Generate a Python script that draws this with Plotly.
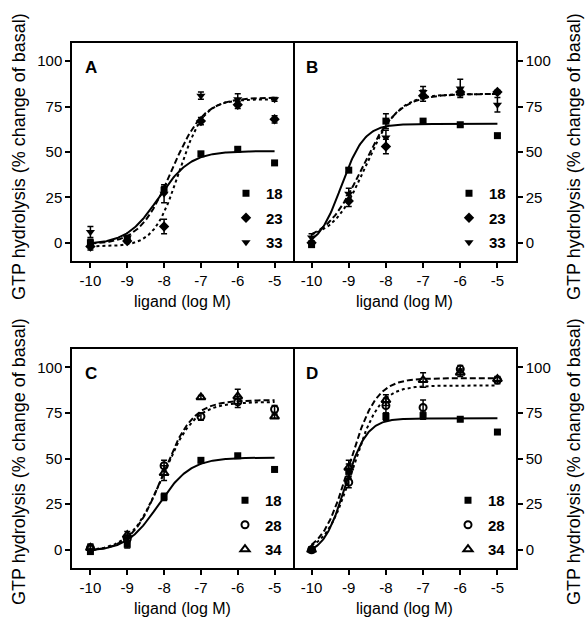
import numpy as np
import plotly.graph_objects as go

# ---------------- data ----------------
log_conc = [-10, -9, -8, -7, -6, -5]
x_tick_vals = [-10, -9, -8, -7, -6, -5]
x_tick_text = ["-10", "-9", "-8", "-7", "-6", "-5"]
y_tick_vals = [0, 25, 50, 75, 100]
y_tick_text = ["0", "25", "50", "75", "100"]

panel_labels = ["A", "B", "C", "D"]

# Panel A
A_18 = [0, 2, 29, 49, 51.5, 44]
A_18_err = [2, 1, 2, 1, 1, 0]
A_23 = [-2, 1, 9, 67, 76, 68]
A_23_err = [2, 1, 4, 2, 2, 2]
A_33 = [6, 3, 27, 81, 79, 79]
A_33_err = [3, 1, 5, 2, 3, 1]

# Panel B
B_18 = [-1, 40, 67, 67, 65, 59]
B_18_err = [1, 1, 4, 1, 1, 1]
B_23 = [0, 23, 53, 81, 83, 83]
B_23_err = [1, 3, 4, 3, 2, 1]
B_33 = [3, 27, 58, 83, 85, 76]
B_33_err = [2, 3, 4, 3, 5, 4]

# Panel C
C_18 = [-1, 3, 29, 49, 51.5, 44]
C_18_err = [1, 2, 2, 1, 1, 0]
C_28 = [1, 6, 46, 73, 81, 77]
C_28_err = [2, 2, 3, 2, 3, 2]
C_34 = [1, 8, 42, 83.5, 84, 73]
C_34_err = [2, 2, 4, 1, 4, 1]

# Panel D
D_18 = [0, 43, 73, 73.5, 71.5, 64.5]
D_18_err = [1, 4, 2, 2, 1, 1]
D_28 = [0, 37, 79, 78, 99, 93]
D_28_err = [1, 3, 4, 4, 2, 2]
D_34 = [0, 45, 82, 93, 97, 93.5]
D_34_err = [1, 4, 3, 4, 2, 1]

# sigmoidal fit parameters: bottom, top, logEC50, hill
A_fits = {"18": (-1, 50.5, -8.15, 1.0), "23": (-2, 79, -7.6, 1.3), "33": (-1, 80, -7.8, 1.0)}
B_fits = {"18": (-3, 65.5, -9.2, 1.4), "23": (2, 82, -8.55, 1.0), "33": (0, 82, -8.65, 0.9)}
C_fits = {"18": (-1, 50.5, -8.15, 1.0), "28": (-1, 81, -8.05, 1.0), "34": (-1, 82, -8.05, 1.05)}
D_fits = {"18": (-3, 72, -9.1, 1.5), "28": (-2, 90, -8.9, 1.2), "34": (-3, 94, -9.0, 1.2)}

# ---------------- figure ----------------
W, H = 587, 619
FONT = "Liberation Sans, Arial, sans-serif"

def px_x(p):
    return p / W

def px_y(p):
    return 1 - p / H

domains = {
    "A": ([px_x(72), px_x(293)], [px_y(261), px_y(43)]),
    "B": ([px_x(293), px_x(516)], [px_y(261), px_y(43)]),
    "C": ([px_x(72), px_x(293)], [px_y(568), px_y(349)]),
    "D": ([px_x(293), px_x(516)], [px_y(568), px_y(349)]),
}

styles = {
    "18": dict(symbol="square", size=7, dash="solid"),
    "23": dict(symbol="diamond", size=8, dash="3px,3px"),
    "33": dict(symbol="triangle-down", size=8, dash="6px,3px"),
    "28": dict(symbol="circle-open", size=7, dash="3px,3px"),
    "34": dict(symbol="triangle-up-open", size=8, dash="6px,3px"),
}

panels = [
    ("A", [("18", A_18, A_18_err), ("23", A_23, A_23_err), ("33", A_33, A_33_err)], A_fits),
    ("B", [("18", B_18, B_18_err), ("23", B_23, B_23_err), ("33", B_33, B_33_err)], B_fits),
    ("C", [("18", C_18, C_18_err), ("28", C_28, C_28_err), ("34", C_34, C_34_err)], C_fits),
    ("D", [("18", D_18, D_18_err), ("28", D_28, D_28_err), ("34", D_34, D_34_err)], D_fits),
]

fig = go.Figure()
xcurve = np.linspace(-10, -5, 200)

def logistic(x, bottom, top, ec50, hill):
    return bottom + (top - bottom) / (1 + 10 ** ((ec50 - x) * hill))

legend_pos = {"A": (288, 259), "B": (511, 259), "C": (288, 566), "D": (511, 566)}

layout = {}
for i, (name, series, fits) in enumerate(panels):
    ax = "" if i == 0 else str(i + 1)
    xref, yref = "x" + ax, "y" + ax
    legname = "legend" if i == 0 else "legend" + str(i + 1)
    for lab, vals, errs in series:
        st = styles[lab]
        b, t, e, h = fits[lab]
        fig.add_trace(go.Scatter(
            x=xcurve, y=logistic(xcurve, b, t, e, h), mode="lines",
            line=dict(color="black", width=2, dash=st["dash"]),
            showlegend=False, xaxis=xref, yaxis=yref, hoverinfo="skip"))
    for lab, vals, errs in series:
        st = styles[lab]
        fig.add_trace(go.Scatter(
            x=log_conc, y=vals, mode="markers", name=lab,
            marker=dict(symbol=st["symbol"], size=st["size"], color="black",
                        line=dict(color="black", width=2 if "open" in st["symbol"] else 0)),
            error_y=dict(type="data", array=errs, visible=True, color="black",
                         thickness=1.5, width=3),
            legend=legname, legendgroup=name + lab,
            xaxis=xref, yaxis=yref))
    xd, yd = domains[name]
    right = name in ("B", "D")
    layout["xaxis" + ax] = dict(
        domain=xd, range=[-10.5, -4.5], anchor=yref,
        tickvals=x_tick_vals, ticktext=x_tick_text, ticks="outside", ticklen=5,
        tickwidth=1.5, tickcolor="black", showline=True, mirror=True, linecolor="black",
        linewidth=1.5, showgrid=False, zeroline=False,
        tickfont=dict(family=FONT, size=15, color="black"),
    )
    layout["yaxis" + ax] = dict(
        domain=yd, range=[-10, 110], anchor=xref, side="right" if right else "left",
        tickvals=y_tick_vals, ticktext=y_tick_text, ticks="outside", ticklen=5,
        tickwidth=1.5, tickcolor="black", showline=True, mirror=(not right), linecolor="black",
        linewidth=1.5, showgrid=False, zeroline=False,
        tickfont=dict(family=FONT, size=15, color="black"),
    )
    lx, ly = legend_pos[name]
    layout[legname] = dict(
        x=px_x(lx), y=px_y(ly), xanchor="right", yanchor="bottom",
        bgcolor="rgba(0,0,0,0)", borderwidth=0, tracegroupgap=2,
        font=dict(family=FONT, size=15, color="black", weight="bold"),
    )
    # panel letter
    fig.add_annotation(
        text="<b>" + panel_labels[i] + "</b>", xref="paper", yref="paper",
        x=xd[0] + px_x(11), y=yd[1] - 13 / H, xanchor="left", yanchor="top",
        showarrow=False, font=dict(family=FONT, size=17, color="black"))
    # x axis title
    fig.add_annotation(
        text="ligand (log M)", xref="paper", yref="paper",
        x=(xd[0] + xd[1]) / 2, y=yd[0] - 40 / H, xanchor="center", yanchor="middle",
        showarrow=False, font=dict(family=FONT, size=16, color="black"))

ytitle = "GTP hydrolysis (% change of basal)"
for (xp, yp) in [(19, 157), (574, 157), (19, 462), (574, 462)]:
    fig.add_annotation(
        text=ytitle, xref="paper", yref="paper", x=px_x(xp), y=px_y(yp),
        xanchor="center", yanchor="middle", textangle=-90, showarrow=False,
        font=dict(family=FONT, size=18, color="black"))

fig.update_layout(
    width=W, height=H, margin=dict(l=0, r=0, t=0, b=0),
    paper_bgcolor="white", plot_bgcolor="white", **layout)

fig.write_html("out.html", config={"displayModeBar": False},
               post_script="document.body.style.margin='0px';")
